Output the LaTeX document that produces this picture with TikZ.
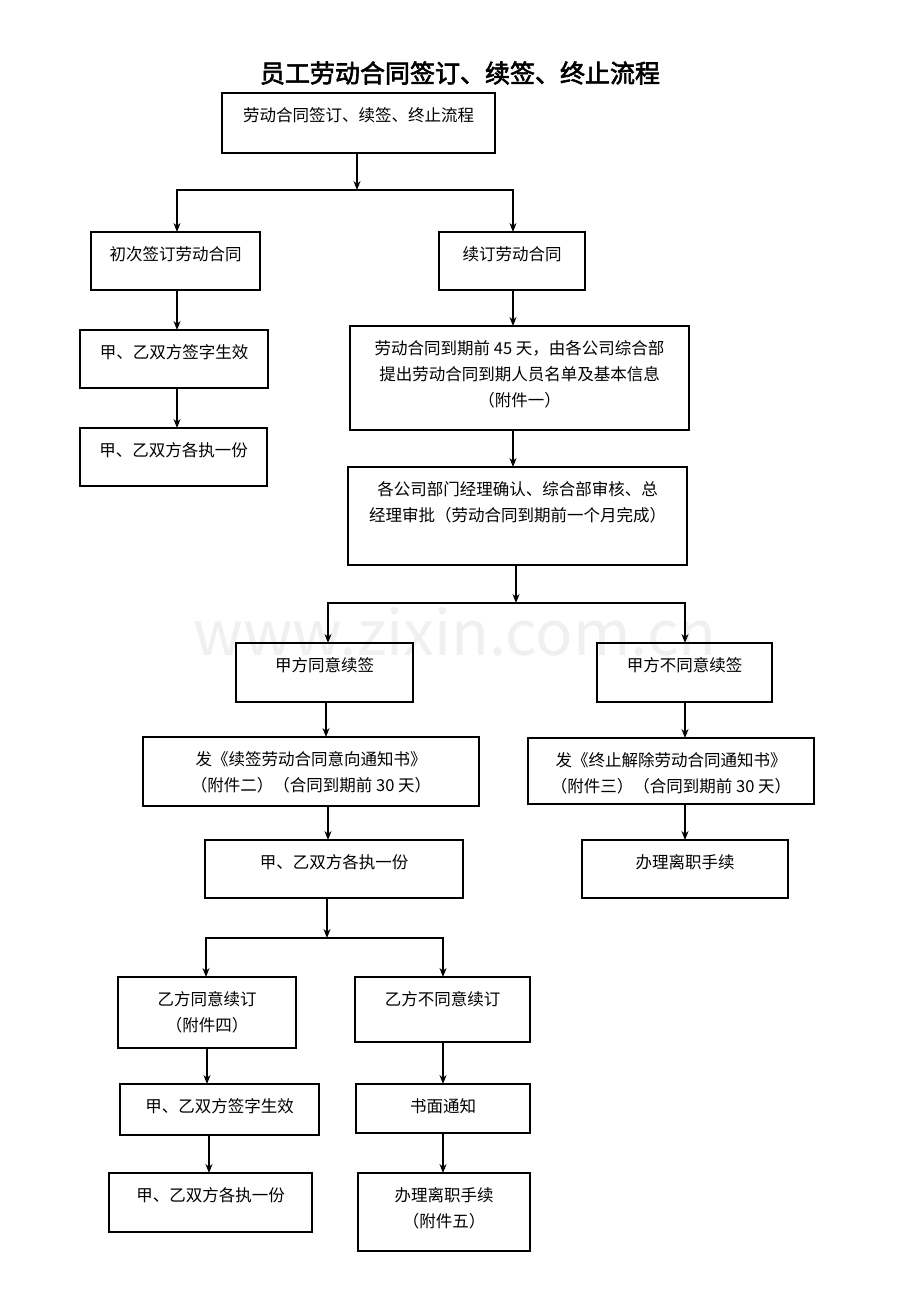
\documentclass[tikz,border=0pt]{standalone}
\usepackage{fontspec}
\setmainfont{Noto Sans CJK SC}
\newfontfamily\titlefont[FakeBold=2.5]{Noto Sans CJK SC}
\usetikzlibrary{arrows.meta}
\tikzset{
 box/.style={draw,line width=1.1pt,inner sep=0pt},
 txt/.style={anchor=north,align=center,inner sep=0pt,font=\fontsize{16.5}{26}\selectfont},
 arr/.style={line width=1.1pt,-{Stealth[length=9pt,width=7pt]}},
 ln/.style={line width=1.1pt}
}
\newcommand\bx[6]{%
 \pgfmathsetmacro\bw{#4-#2}\pgfmathsetmacro\bh{#5-#3}%
 \pgfmathsetmacro\cx{(#2+#4)/2}\pgfmathsetmacro\cy{(#3+#5)/2}%
 \node[box,minimum width=\bw pt,minimum height=\bh pt] (#1) at (\cx,\cy) {};
 \node[txt] (#1t) at (\cx,#3+14) {#6};}
\begin{document}
\begin{tikzpicture}[x=1pt,y=-1pt]
\path[use as bounding box,fill=white] (0,0) rectangle (920,1300);
\node[font=\fontsize{62}{62}\selectfont,text=black!6] (wm) at (455,632) {www.zixin.com.cn};
\node[font=\titlefont\fontsize{25}{25}\selectfont] (title) at (460,73) {员工劳动合同签订、续签、终止流程};
\bx{A}{222}{93}{495}{153}{劳动合同签订、续签、终止流程}
\bx{B1}{91}{232}{260}{290}{初次签订劳动合同}
\bx{B2}{439}{232}{585}{290}{续订劳动合同}
\bx{C1}{80}{330}{268}{388}{甲、乙双方签字生效}
\bx{C2}{350}{326}{689}{430}{劳动合同到期前 45 天，由各公司综合部\\提出劳动合同到期人员名单及基本信息\\（附件一）}
\bx{D1}{80}{428}{267}{486}{甲、乙双方各执一份}
\bx{D2}{348}{467}{687}{565}{各公司部门经理确认、综合部审核、总\\经理审批（劳动合同到期前一个月完成）}
\bx{E1}{236}{643}{413}{702}{甲方同意续签}
\bx{E2}{597}{643}{772}{702}{甲方不同意续签}
\bx{F1}{143}{737}{479}{806}{发《续签劳动合同意向通知书》\\（附件二）（合同到期前 30 天）}
\bx{F2}{528}{738}{814}{804}{发《终止解除劳动合同通知书》\\（附件三）（合同到期前 30 天）}
\bx{G1}{205}{840}{463}{898}{甲、乙双方各执一份}
\bx{G2}{582}{840}{788}{898}{办理离职手续}
\bx{H1}{118}{977}{296}{1048}{乙方同意续订\\（附件四）}
\bx{H2}{355}{977}{530}{1042}{乙方不同意续订}
\bx{I1}{120}{1084}{319}{1135}{甲、乙双方签字生效}
\bx{I2}{356}{1084}{530}{1133}{书面通知}
\bx{J1}{109}{1173}{312}{1232}{甲、乙双方各执一份}
\bx{J2}{358}{1173}{530}{1251}{办理离职手续\\（附件五）}
\coordinate (j1) at (357,190);
\coordinate (j2) at (516,603);
\coordinate (j3) at (327,938);
\draw[arr] (A.south -| j1) -- (j1);
\draw[arr] (j1) -| (177,232);
\draw[arr] (j1) -| (513,232);
\draw[arr] (177,290) -- (177,330);
\draw[arr] (177,388) -- (177,428);
\draw[arr] (513,290) -- (513,326);
\draw[arr] (513,430) -- (513,467);
\draw[arr] (j2 |- D2.south) -- (j2);
\draw[arr] (j2) -| (328,643);
\draw[arr] (j2) -| (685,643);
\draw[arr] (326,702) -- (326,737);
\draw[arr] (685,702) -- (685,738);
\draw[arr] (328,806) -- (328,840);
\draw[arr] (685,804) -- (685,840);
\draw[arr] (j3 |- G1.south) -- (j3);
\draw[arr] (j3) -| (206,977);
\draw[arr] (j3) -| (443,977);
\draw[arr] (207,1048) -- (207,1084);
\draw[arr] (443,1042) -- (443,1084);
\draw[arr] (209,1135) -- (209,1173);
\draw[arr] (443,1133) -- (443,1173);
\end{tikzpicture}
\end{document}
